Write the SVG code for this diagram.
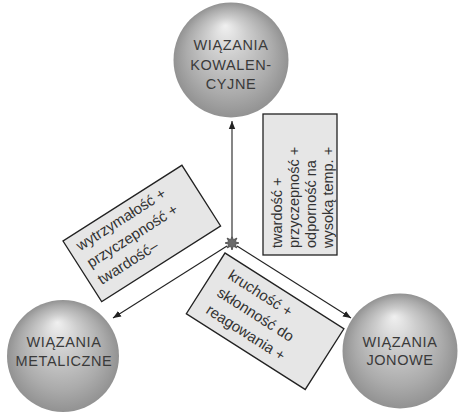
<svg xmlns="http://www.w3.org/2000/svg" width="461" height="412" viewBox="0 0 461 412">
<defs>
<radialGradient id="sph" cx="0.5" cy="0.5" r="0.5" fx="0.45" fy="0.2">
<stop offset="0" stop-color="#f0f0f0"/>
<stop offset="0.35" stop-color="#cdcdcd"/>
<stop offset="0.75" stop-color="#ababab"/>
<stop offset="1" stop-color="#929292"/>
</radialGradient>
<marker id="ah" viewBox="0 0 10 10" refX="10" refY="5" markerWidth="8" markerHeight="8" markerUnits="userSpaceOnUse" orient="auto">
<path d="M0,1 L10,5 L0,9 Z" fill="#222"/>
</marker>
<style>
.sph{fill:url(#sph)}
.lbl{font-family:"Liberation Sans",Arial,sans-serif;font-size:14.5px;fill:#3a3a3a;text-anchor:middle;letter-spacing:0.6px}
.box{fill:#e6e6e6;stroke:#222;stroke-width:1.3}
.bt{font-family:"Liberation Sans",Arial,sans-serif;font-size:15px;fill:#333}
.bt14{font-family:"Liberation Sans",Arial,sans-serif;font-size:14.5px;fill:#333}
.con{stroke:#222;stroke-width:1.1;fill:none}
</style>
</defs>
<rect width="461" height="412" fill="#fff"/>
<g id="connectors">
<line class="con" x1="232" y1="236" x2="232" y2="121" marker-end="url(#ah)"/>
<line class="con" x1="227" y1="246" x2="113" y2="318" marker-end="url(#ah)"/>
<line class="con" x1="237" y1="246" x2="351" y2="318" marker-end="url(#ah)"/>
</g>
<g id="node-kowalencyjne">
<circle class="sph" cx="231" cy="60" r="57.5"/>
<text class="lbl" x="231" y="50">WIĄZANIA</text>
<text class="lbl" x="231" y="70">KOWALEN-</text>
<text class="lbl" x="231" y="89">CYJNE</text>
</g>
<g id="node-metaliczne">
<circle class="sph" cx="63" cy="356" r="56"/>
<text class="lbl" x="64" y="347">WIĄZANIA</text>
<text class="lbl" x="64" y="366">METALICZNE</text>
</g>
<g id="node-jonowe">
<circle class="sph" cx="400" cy="351" r="57.5"/>
<text class="lbl" x="400" y="347">WIĄZANIA</text>
<text class="lbl" x="400" y="365">JONOWE</text>
</g>
<g id="node-center">
<path transform="translate(232,243)" fill="#6a6a6a" stroke="#444" stroke-width="0.8" d="M7,0 L3.23,1.34 L4.95,4.95 L1.34,3.23 L0,7 L-1.34,3.23 L-4.95,4.95 L-3.23,1.34 L-7,0 L-3.23,-1.34 L-4.95,-4.95 L-1.34,-3.23 L0,-7 L1.34,-3.23 L4.95,-4.95 L3.23,-1.34 Z"/>
</g>
<g id="box-covalent">
<rect class="box" x="263" y="114" width="74" height="141"/>
<g transform="translate(282,248) rotate(-90)">
<text class="bt14" x="0" y="0">twardość +</text>
<text class="bt14" x="0" y="17">przyczepność +</text>
<text class="bt14" x="0" y="34">odporność na</text>
<text class="bt14" x="0" y="51">wysoką temp. +</text>
</g>
</g>
<g id="box-metallic" transform="translate(63,241) rotate(-32.5)">
<rect class="box" x="0" y="0" width="141" height="72"/>
<text class="bt" x="9" y="18">wytrzymałość +</text>
<text class="bt" x="9" y="38">przyczepność +</text>
<text class="bt" x="9" y="58">twardość–</text>
</g>
<g id="box-ionic" transform="translate(225,253) rotate(32.5)">
<rect class="box" x="0" y="0" width="141" height="72"/>
<text class="bt" x="15" y="20">kruchość +</text>
<text class="bt" x="15" y="40.5">skłonność do</text>
<text class="bt" x="15" y="61">reagowania +</text>
</g>
</svg>
